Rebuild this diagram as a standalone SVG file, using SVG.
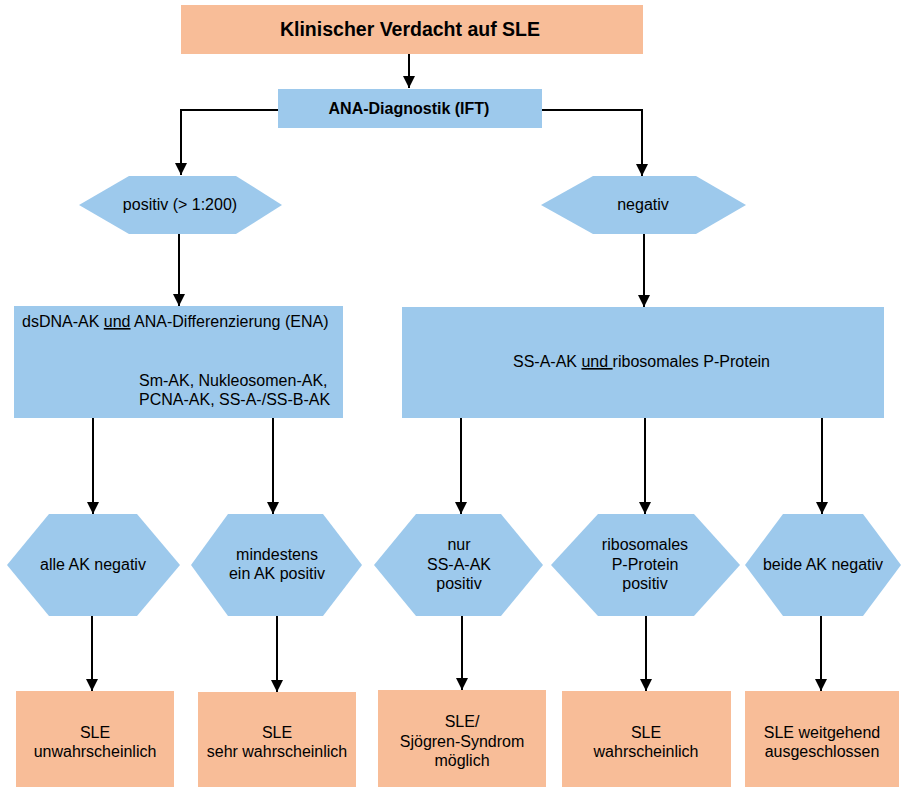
<svg xmlns="http://www.w3.org/2000/svg" width="902" height="790" viewBox="0 0 902 790">
<defs>
<style>
.o{fill:#F8BD98}
.b{fill:#9DC9EC}
.t{font-family:"Liberation Sans",Arial,sans-serif;font-size:16px;fill:#000;text-anchor:middle}
.tl{font-family:"Liberation Sans",Arial,sans-serif;font-size:16px;fill:#000}
.bold{font-weight:bold}
.c{stroke:#000;stroke-width:2;fill:none}
</style>
<marker id="ah" markerWidth="12" markerHeight="12" viewBox="0 0 12 12" refX="12" refY="6" orient="auto" markerUnits="userSpaceOnUse">
<path d="M0,0 L12,6 L0,12 Z" fill="#000"/>
</marker>
</defs>
<rect width="902" height="790" fill="#fff"/>

<g id="connectors">
<path class="c" d="M409,54 V88" marker-end="url(#ah)"/>
<path class="c" d="M278,110 H181 V175" marker-end="url(#ah)"/>
<path class="c" d="M542,110 H642 V176" marker-end="url(#ah)"/>
<path class="c" d="M179,234 V306" marker-end="url(#ah)"/>
<path class="c" d="M644,233 V307" marker-end="url(#ah)"/>
<path class="c" d="M219,338 V359" marker-end="url(#ah)"/>
<path class="c" d="M93,418 V514" marker-end="url(#ah)"/>
<path class="c" d="M273,418 V514" marker-end="url(#ah)"/>
<path class="c" d="M461,418 V514" marker-end="url(#ah)"/>
<path class="c" d="M645,418 V514" marker-end="url(#ah)"/>
<path class="c" d="M822,418 V514" marker-end="url(#ah)"/>
<path class="c" d="M92,615 V691" marker-end="url(#ah)"/>
<path class="c" d="M277,615 V692" marker-end="url(#ah)"/>
<path class="c" d="M462,615 V690" marker-end="url(#ah)"/>
<path class="c" d="M646,615 V691" marker-end="url(#ah)"/>
<path class="c" d="M821,615 V691" marker-end="url(#ah)"/>
</g>

<g id="start">
<rect class="o" x="181" y="5" width="462" height="49"/>
<text class="t bold" x="410" y="36" style="font-size:19.5px">Klinischer Verdacht auf SLE</text>
</g>

<g id="ana">
<rect class="b" x="278" y="89" width="264" height="39"/>
<text class="t bold" x="409" y="114">ANA-Diagnostik (IFT)</text>
</g>

<g id="positiv">
<polygon class="b" points="79,205 129,176 236,176 282,205 236,234 129,234"/>
<text class="t" x="180" y="210">positiv (&gt; 1:200)</text>
</g>

<g id="negativ">
<polygon class="b" points="541,205 593,176 696,176 746,205 696,234 593,234"/>
<text class="t" x="643" y="210">negativ</text>
</g>

<g id="dsdna">
<rect class="b" x="14" y="306" width="329" height="112"/>
<text class="tl" x="22" y="327">dsDNA-AK <tspan text-decoration="underline">und</tspan> ANA-Differenzierung (ENA)</text>
<text class="tl" x="139" y="386">Sm-AK, Nukleosomen-AK,</text>
<text class="tl" x="139" y="405">PCNA-AK, SS-A-/SS-B-AK</text>
</g>

<g id="ssa">
<rect class="b" x="402" y="307" width="482" height="111"/>
<text class="tl" x="513" y="367">SS-A-AK <tspan text-decoration="underline">und </tspan>ribosomales P-Protein</text>
</g>

<g id="hex-alle">
<polygon class="b" points="7,565 49,514 137,514 180,565 137,616 49,616"/>
<text class="t" x="93" y="570">alle AK negativ</text>
</g>

<g id="hex-mind">
<polygon class="b" points="191,565 228,514 323,514 362,565 323,616 228,616"/>
<text class="t" x="277" y="560">mindestens</text>
<text class="t" x="277" y="579">ein AK positiv</text>
</g>

<g id="hex-nur">
<polygon class="b" points="374,565 416,514 501,514 543,565 501,616 416,616"/>
<text class="t" x="459" y="550">nur</text>
<text class="t" x="459" y="570">SS-A-AK</text>
<text class="t" x="459" y="589">positiv</text>
</g>

<g id="hex-ribo">
<polygon class="b" points="551,565 598,514 694,514 740,565 694,616 598,616"/>
<text class="t" x="645" y="550">ribosomales</text>
<text class="t" x="645" y="570">P-Protein</text>
<text class="t" x="645" y="589">positiv</text>
</g>

<g id="hex-beide">
<polygon class="b" points="745,565 783,514 863,514 901,565 863,616 783,616"/>
<text class="t" x="823" y="570">beide AK negativ</text>
</g>

<g id="res1">
<rect class="o" x="16" y="691" width="158" height="96"/>
<text class="t" x="95" y="738">SLE</text>
<text class="t" x="95" y="757">unwahrscheinlich</text>
</g>

<g id="res2">
<rect class="o" x="198" y="692" width="158" height="95"/>
<text class="t" x="277" y="738">SLE</text>
<text class="t" x="277" y="757">sehr wahrscheinlich</text>
</g>

<g id="res3">
<rect class="o" x="378" y="690" width="168" height="97"/>
<text class="t" x="462" y="727">SLE/</text>
<text class="t" x="462" y="747">Sjögren-Syndrom</text>
<text class="t" x="462" y="766">möglich</text>
</g>

<g id="res4">
<rect class="o" x="562" y="691" width="169" height="96"/>
<text class="t" x="646" y="738">SLE</text>
<text class="t" x="646" y="757">wahrscheinlich</text>
</g>

<g id="res5">
<rect class="o" x="745" y="691" width="154" height="96"/>
<text class="t" x="822" y="738">SLE weitgehend</text>
<text class="t" x="822" y="757">ausgeschlossen</text>
</g>
</svg>
